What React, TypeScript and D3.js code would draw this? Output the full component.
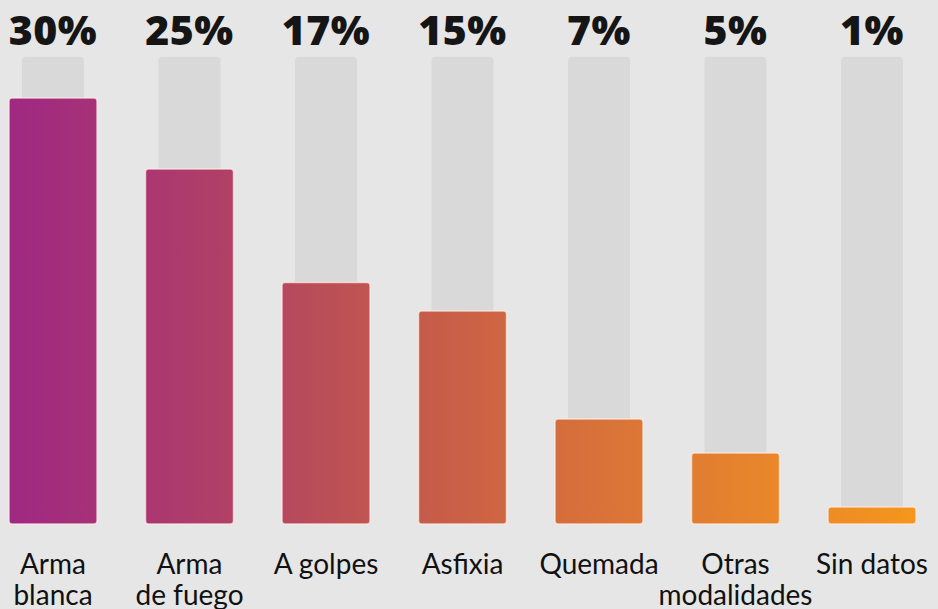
import React from "react";
import * as d3 from "d3";

const categories = ["Arma blanca", "Arma de fuego", "A golpes", "Asfixia", "Quemada", "Otras modalidades", "Sin datos"];
const labelLines = [["Arma", "blanca"], ["Arma", "de fuego"], ["A golpes"], ["Asfixia"], ["Quemada"], ["Otras", "modalidades"], ["Sin datos"]];
const values = [30, 25, 17, 15, 7.4, 5, 1.2];
const valueLabels = ["30%", "25%", "17%", "15%", "7%", "5%", "1%"];
const trackMax = 32.9;

const W = 938;
const H = 609;

export default function App() {
  const x = d3.scalePoint<string>().domain(categories).range([53, 872]);
  const y = d3.scaleLinear().domain([0, 30]).range([524, 98]);
  const color = d3
    .scaleLinear<string>()
    .domain([9, 229, 407, 631, 916])
    .range(["#9f2882", "#b04066", "#c45a4c", "#dc7636", "#f5961d"])
    .interpolate(d3.interpolateRgb);
  const barW = 88;
  const trackW = 62;

  return (
    <svg
      width={W}
      height={H}
      style={{ position: "absolute", left: 0, top: 0, display: "block" }}
    >
      <defs>
        {categories.map((c, i) => {
          const cx = x(c)!;
          const x0 = cx - barW / 2;
          const x1 = cx + barW / 2;
          return (
            <linearGradient key={c} id={`g${i}`} gradientUnits="userSpaceOnUse" x1={x0} x2={x1} y1={0} y2={0}>
              <stop offset="0%" stopColor={color(x0)} />
              <stop offset="100%" stopColor={color(x1)} />
            </linearGradient>
          );
        })}
      </defs>
      <rect width={W} height={H} fill="#e6e6e6" />
      {categories.map((c) => {
        const cx = x(c)!;
        return (
          <rect
            key={"t" + c}
            x={cx - trackW / 2}
            y={y(trackMax)}
            width={trackW}
            height={y(0) - y(trackMax)}
            rx={4}
            fill="#d9d9d9"
          />
        );
      })}
      {categories.map((c, i) => {
        const cx = x(c)!;
        return (
          <rect
            key={"b" + c}
            x={cx - barW / 2}
            y={y(values[i])}
            width={barW}
            height={y(0) - y(values[i])}
            rx={3}
            fill={`url(#g${i})`}
            stroke="rgba(255,238,232,0.7)"
            strokeWidth={1.5}
          />
        );
      })}
      {categories.map((c, i) => (
        <text
          key={"v" + c}
          x={x(c)!}
          y={45}
          textAnchor="middle"
          fontFamily="'Open Sans', sans-serif"
          fontWeight={800}
          fontSize={41}
          letterSpacing={0.5}
          fill="#151515"
        >
          {valueLabels[i]}
        </text>
      ))}
      {categories.map((c, i) => (
        <text
          key={"l" + c}
          x={x(c)!}
          y={574}
          textAnchor="middle"
          fontFamily="Lato, sans-serif"
          fontSize={28}
          fill="#111"
        >
          {labelLines[i].map((ln, j) => (
            <tspan key={j} x={x(c)!} dy={j === 0 ? 0 : 31}>
              {ln}
            </tspan>
          ))}
        </text>
      ))}
    </svg>
  );
}
